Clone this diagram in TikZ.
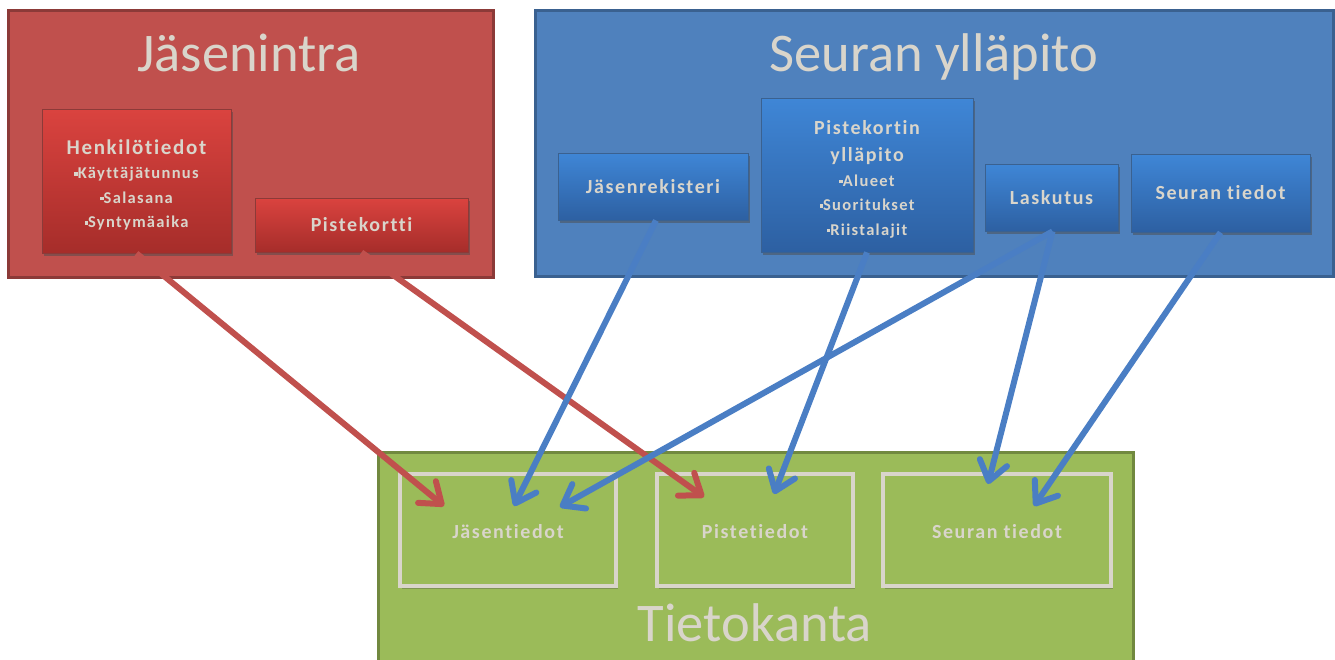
\documentclass[tikz,border=0pt]{standalone}
\usepackage{fontspec}
\setmainfont{Carlito}[Ligatures=NoCommon]
\newfontfamily\boxfont[LetterSpace=8,Ligatures=NoCommon]{Carlito}
\usetikzlibrary{arrows.meta,shadows,calc}
\definecolor{redouter}{HTML}{C0504D}
\definecolor{redborder}{HTML}{8C3A38}
\definecolor{redtop}{HTML}{DA433F}
\definecolor{redbot}{HTML}{A62D2A}
\definecolor{blueouter}{HTML}{4F81BD}
\definecolor{blueborder}{HTML}{3A6190}
\definecolor{bluetop}{HTML}{3F86D6}
\definecolor{bluebot}{HTML}{2D60A2}
\definecolor{greenouter}{HTML}{9BBB59}
\definecolor{greenborder}{HTML}{71893F}
\definecolor{ghost}{HTML}{D9D5CB}
\definecolor{redarrow}{HTML}{C0504D}
\definecolor{bluearrow}{HTML}{4A7EC4}
\newcommand{\bul}{\rule[3pt]{3.5pt}{3.5pt}}
\tikzset{
  outerbox/.style={draw, line width=3pt, inner sep=0pt},
  titletext/.style={text=ghost, font=\fontsize{54.5}{62}\selectfont, anchor=base, inner sep=0pt},
  inbox/.style={inner sep=0pt, line width=0.8pt, align=center, text=ghost,
    font=\boxfont\bfseries\fontsize{20}{24.5}\selectfont,
    drop shadow={shadow xshift=2pt, shadow yshift=-3pt, opacity=0.5, fill=black!70}},
  redin/.style={inbox, draw=redborder, top color=redtop, bottom color=redbot},
  bluein/.style={inbox, draw=blueborder, top color=bluetop, bottom color=bluebot},
  boxtext/.style={inner sep=0pt, align=center, text=ghost,
    font=\boxfont\bfseries\fontsize{20}{24.5}\selectfont},
  greenin/.style={draw=ghost, line width=4.5pt, fill=greenouter, inner sep=0pt, text=ghost,
    font=\boxfont\bfseries\fontsize{20}{24}\selectfont,
    drop shadow={shadow xshift=1.5pt, shadow yshift=-2.5pt, opacity=0.35, fill=black!70}},
  link/.style={line width=6pt, -{Straight Barb[length=19pt, width=28pt, line width=6pt, round]}},
  redlink/.style={link, draw=redarrow},
  bluelink/.style={link, draw=bluearrow},
}
\begin{document}
\begin{tikzpicture}[x=1pt, y=-1pt]
\useasboundingbox (0,0) rectangle (1335,659);
% outer boxes
\node[outerbox, draw=redborder, fill=redouter, minimum width=485pt, minimum height=267pt] (jas) at (250.5,143.5) {};
\node[outerbox, draw=blueborder, fill=blueouter, minimum width=798pt, minimum height=266pt] (seu) at (934,143) {};
\node[outerbox, draw=greenborder, fill=greenouter, minimum width=755pt, minimum height=240pt] (tk) at (755.5,572) {};
% titles
\node[titletext] (jast) at (249,71) {Jäsenintra};
\node[titletext] (seut) at (934,71) {Seuran ylläpito};
\node[titletext] (tkt) at (755,641) {Tietokanta};
% red inner
\node[redin, minimum width=189pt, minimum height=144pt] (henk) at (136.5,181) {};
\node[boxtext] (henkt) at (136.5,185)
  {{\fontsize{21}{24.5}\selectfont Henkilötiedot}\\{\fontsize{16.5}{24.5}\selectfont \bul Käyttäjätunnus}\\{\fontsize{16.5}{24.5}\selectfont \bul Salasana}\\{\fontsize{16.5}{24.5}\selectfont \bul Syntymäaika}};
\node[redin, minimum width=213pt, minimum height=54pt] (pk) at (361.5,225) {Pistekortti};
% blue inner
\node[bluein, minimum width=190pt, minimum height=67pt] (jr) at (653,186.5) {Jäsenrekisteri};
\node[bluein, minimum width=212pt, minimum height=154pt] (pky) at (867,175) {};
\node[boxtext] (pkyt) at (867,179)
  {Pistekortin\\[3pt]ylläpito\\{\fontsize{16.5}{24}\selectfont \bul Alueet}\\{\fontsize{16.5}{24}\selectfont \bul Suoritukset}\\{\fontsize{16.5}{24}\selectfont \bul Riistalajit}};
\node[bluein, minimum width=133pt, minimum height=67pt] (lask) at (1051.5,197.5) {Laskutus};
\node[bluein, minimum width=179pt, minimum height=78pt] (st) at (1220.5,193) {Seuran tiedot};
% green inner
\node[greenin, minimum width=216pt, minimum height=112pt] (jt) at (508,530) {};
\node[greenin, minimum width=196pt, minimum height=112pt] (pt) at (755,530) {};
\node[greenin, minimum width=228pt, minimum height=112pt] (stt) at (997,530) {};
\node[boxtext] (jtt) at (508,532) {Jäsentiedot};
\node[boxtext] (ptt) at (755,532) {Pistetiedot};
\node[boxtext] (sttt) at (997,532) {Seuran tiedot};
% arrow tips
\coordinate (e1) at (444,506);
\coordinate (e2) at (514,506);
\coordinate (e3) at (560,507);
\coordinate (e4) at (704,497);
\coordinate (e5) at (774,494);
\coordinate (e6) at (988,484);
\coordinate (e7) at (1034,506);
% arrows
\draw[redlink] (henk.south) -- (e1);
\draw[redlink] (pk.south) -- (e4);
\draw[bluelink] ([xshift=3pt]jr.south) -- (e2);
\draw[bluelink] (pky.south) -- (e5);
\draw[bluelink] ([xshift=1pt]lask.south) -- (e3);
\draw[bluelink] ([xshift=1pt]lask.south) -- (e6);
\draw[bluelink] (st.south) -- (e7);
\end{tikzpicture}
\end{document}
